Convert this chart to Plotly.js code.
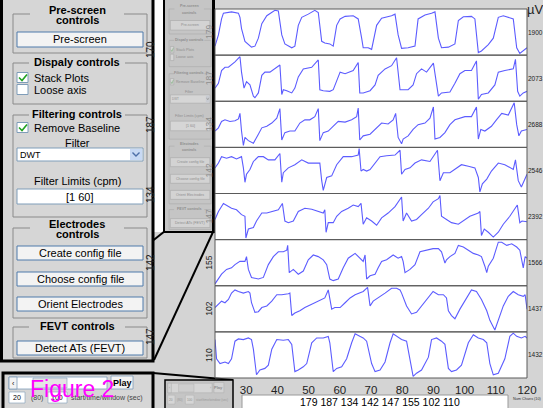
<!DOCTYPE html>
<html><head><meta charset="utf-8">
<script src="https://cdn.plot.ly/plotly-3.0.1.min.js"></script>
<style>html,body{margin:0;padding:0;background:#d4d4d4}#chart{width:543px;height:408px}</style>
</head><body><div id="chart"></div>
<script>
// ---------------- DATA ----------------
const timeTicks = [30, 40, 50, 60, 70, 80, 90, 100, 110, 120];
const channelIds = ['179', '187', '134', '142', '147', '155', '102', '110'];
const channelScales = ['1900', '2073', '2688', '2546', '2392', '1566', '1437', '1432'];
const channelListText = '179 187 134 142 147 155 102 110';

const t179 = [20.0,21.1,22.1,22.7,25.3,27.5,28.0,28.5,29.6,30.1,31.7,32.8,33.9,35.0,36.6,39.2,40.3,41.4,42.4,44.6,45.6,46.7,47.8,49.9,52.0,53.1,54.2,55.2,56.8,57.9,59.0,60.1,61.7,64.3,65.9,67.0,67.5,69.1,70.2,71.8,73.4,76.6,77.7,78.7,79.8,81.9,84.1,85.1,87.3,89.4,90.5,91.6,92.6,94.8,96.9,98.0,99.6,102.2,103.3,104.4,105.4,107.6,109.2,110.8,112.4,115.6,116.7,117.7,118.8,120.0];
const v179 = [25,60,110,128,132,128,115,80,40,35,22,25,50,95,120,137,135,60,32,20,25,90,115,125,137,130,40,35,32,25,90,110,118,120,110,50,20,20,15,90,112,120,125,60,18,20,25,110,122,128,132,50,20,22,32,105,117,118,110,5,10,30,50,115,120,110,20,2,10,20];

const t187 = [20.0,21.1,22.1,23.2,24.3,25.3,26.4,28.0,28.5,29.3,30.1,31.2,32.3,32.8,33.9,35.0,36.0,37.6,39.2,40.8,41.4,41.9,43.0,44.6,45.6,46.7,48.3,51.0,53.1,53.6,54.7,56.8,57.9,59.0,60.1,61.7,64.3,65.9,66.4,67.5,69.7,71.3,72.3,74.5,76.6,78.2,79.3,80.3,81.9,83.5,84.6,86.2,87.8,90.0,91.6,92.6,95.3,96.9,98.5,100.1,102.2,103.8,104.4,105.4,107.6,109.7,110.8,112.9,115.6,116.3,117.0,117.7,118.8,120.0];
const v187 = [38,53,93,103,103,110,120,136,88,38,58,48,13,8,23,78,88,88,98,110,18,33,30,23,38,73,98,103,126,33,30,28,33,63,88,83,93,118,23,23,30,48,78,98,108,133,33,33,33,48,83,98,88,116,13,23,26,53,83,93,93,123,3,18,23,48,88,93,98,128,28,13,23,28];

const t134 = [20.0,21.1,22.1,23.2,24.8,26.4,27.5,28.0,28.5,29.1,29.6,30.7,32.3,32.8,33.9,35.0,36.6,38.2,39.8,40.8,41.4,42.4,44.0,45.6,47.2,48.8,50.4,52.0,53.1,53.6,54.7,56.3,57.9,59.5,61.7,63.8,65.4,65.9,66.4,67.5,69.7,71.3,73.4,75.5,77.1,77.9,78.7,79.8,80.3,81.9,83.5,85.1,87.3,88.9,90.0,90.5,92.1,93.7,95.3,96.9,100.1,102.2,103.8,104.4,105.2,106.5,108.6,110.2,111.9,114.0,115.9,116.7,117.4,118.2,120.0];
const v134 = [48,58,78,83,78,80,86,103,48,3,28,18,10,18,38,58,63,73,88,118,20,43,48,48,73,83,83,93,118,18,43,48,63,78,76,83,93,120,20,33,38,53,73,70,83,103,28,8,23,33,53,68,73,88,123,23,28,43,68,83,93,93,123,23,53,48,63,83,103,98,136,68,33,48,53];

const t142 = [20.0,21.1,22.1,23.7,25.3,26.9,28.5,29.1,29.6,30.1,31.2,32.3,33.9,35.5,37.1,39.2,40.8,41.4,41.9,43.5,45.6,47.8,49.9,52.0,53.6,54.2,54.7,55.8,57.4,59.0,61.1,63.8,65.9,66.2,66.8,67.5,68.6,69.7,71.3,72.9,75.0,77.7,79.3,79.8,80.9,82.5,84.1,86.2,88.9,91.3,92.1,93.2,95.3,96.9,99.0,101.2,103.3,104.4,104.9,105.7,107.1,108.6,110.8,112.9,115.6,116.3,117.2,118.2,119.1,120.0];
const v142 = [77,92,112,107,112,105,112,77,32,57,72,97,112,112,102,102,122,32,62,77,87,102,92,92,92,37,7,47,52,87,112,112,117,137,67,72,67,72,92,112,115,117,132,57,72,77,92,102,97,132,37,62,62,72,87,82,77,47,2,27,42,67,92,87,72,102,37,17,37,57];

const t147 = [20.0,21.1,22.7,23.7,25.3,26.9,28.5,29.6,29.9,30.7,32.3,33.3,35.0,36.6,38.7,40.3,41.6,42.4,43.5,45.1,46.7,48.8,51.0,53.1,54.7,55.2,55.6,56.3,57.9,59.0,60.6,62.7,64.3,65.9,66.8,67.5,68.6,70.2,71.8,73.4,75.5,77.7,79.3,79.8,80.3,81.4,83.0,84.6,86.2,88.4,89.9,91.6,92.1,92.6,94.2,95.8,98.0,99.6,101.7,104.4,104.9,105.4,106.3,107.6,109.2,110.8,112.4,114.5,116.3,116.9,117.7,118.4,120.0];
const v147 = [60,85,110,105,95,90,75,70,2,30,35,55,80,80,85,90,110,55,50,55,85,95,92,85,80,90,20,50,50,70,85,95,105,100,110,45,65,55,42,65,80,100,120,130,55,80,55,60,75,95,115,125,135,70,60,50,45,55,70,80,85,10,30,20,5,20,45,70,95,105,50,55,53];

const t155 = [20.0,21.1,22.1,23.7,25.3,26.4,28.0,29.6,30.1,30.7,31.7,33.9,35.5,37.1,38.7,40.3,41.9,43.0,43.3,43.8,45.1,46.7,48.3,49.9,51.5,53.1,54.7,55.8,56.8,57.9,59.5,61.1,62.7,64.9,66.4,67.5,68.1,68.6,69.7,71.3,72.3,73.4,75.0,77.1,78.7,79.8,80.3,80.9,82.5,84.1,85.7,87.8,89.9,91.6,92.6,93.7,94.2,95.3,96.9,98.0,99.6,101.2,102.8,104.4,105.4,106.5,107.1,107.6,109.2,110.8,111.9,113.5,115.1,116.7,117.7,118.8,119.4,120.0];
const v155 = [3,18,33,48,53,63,73,73,88,48,23,18,23,63,88,103,103,108,123,38,48,33,43,78,93,88,78,63,18,13,18,53,83,98,83,73,93,18,28,33,53,73,78,93,83,88,73,38,48,63,103,108,113,113,103,68,78,88,98,123,118,108,98,93,88,58,38,58,83,133,133,123,128,118,108,53,88,83];

const t102 = [20.0,21.1,22.1,23.2,24.3,25.3,26.4,27.5,29.1,30.7,31.2,31.7,32.8,33.9,35.0,36.6,38.2,39.8,41.4,43.5,44.0,44.6,45.6,47.2,48.8,51.0,53.1,55.2,56.3,57.4,58.4,60.1,61.7,63.3,64.9,67.5,68.9,69.7,70.7,72.3,74.5,76.6,78.2,79.3,79.8,81.4,83.0,84.6,86.2,88.4,89.9,91.6,93.2,94.2,94.8,95.8,96.9,98.5,100.1,102.2,103.8,105.4,107.1,108.1,109.7,110.8,112.4,114.0,115.6,117.2,118.8,119.4,120.0];
const v102 = [73,83,93,88,98,118,128,123,118,123,118,88,58,60,73,78,93,113,113,116,118,48,56,63,73,83,93,103,128,68,73,73,88,103,113,123,136,78,93,103,118,133,133,128,118,78,53,58,78,103,123,113,113,103,63,48,38,68,93,128,123,98,63,33,3,33,78,108,123,113,108,113,68];

const t110 = [20.0,20.5,21.6,23.2,24.3,25.3,26.4,27.5,29.1,30.7,31.7,32.3,33.3,34.4,36.0,37.1,38.2,39.8,41.9,43.5,44.6,45.6,46.7,48.3,49.4,51.0,52.6,54.7,56.3,56.8,57.9,59.0,60.6,62.2,63.8,64.9,66.4,67.5,68.6,70.2,71.3,72.9,74.5,76.1,77.1,78.2,79.8,81.4,82.5,83.5,84.6,86.2,88.4,89.4,91.0,92.6,93.7,94.8,95.8,97.4,99.0,101.2,102.8,104.4,106.0,107.1,108.1,109.2,110.8,112.9,114.5,115.6,116.7,118.2,119.4,120.0];
const v110 = [117,57,42,47,42,57,112,119,117,122,117,87,7,22,27,37,87,117,115,117,102,17,22,32,42,107,122,122,127,107,17,27,32,57,107,135,127,122,112,42,17,22,47,107,135,127,117,112,47,2,12,22,62,117,122,112,102,27,17,22,37,107,132,122,117,107,42,7,12,57,127,137,127,122,127,122];

// ---------------- LAYOUT HELPERS ----------------
const W = 543, H = 408;
const FONT = 'Liberation Sans, Arial, sans-serif';
const shapes = [], annotations = [];
function rect(x0, y0, x1, y1, fill, lc, lw) {
  shapes.push({type: 'rect', xref: 'paper', yref: 'paper', x0: x0 / W, x1: x1 / W, y0: 1 - y1 / H, y1: 1 - y0 / H,
    fillcolor: fill || 'rgba(0,0,0,0)', line: {color: lc || 'rgba(0,0,0,0)', width: lw || 0}});
}
function seg(x0, y0, x1, y1, c, w) {
  shapes.push({type: 'line', xref: 'paper', yref: 'paper', x0: x0 / W, x1: x1 / W, y0: 1 - y0 / H, y1: 1 - y1 / H, line: {color: c, width: w}});
}
function poly(pts, c, w) {
  const d = pts.map((p, i) => (i ? 'L' : 'M') + (p[0] / W).toFixed(5) + ',' + (1 - p[1] / H).toFixed(5)).join(' ');
  shapes.push({type: 'path', xref: 'paper', yref: 'paper', path: d, line: {color: c, width: w}});
}
function text(x, y, t, o) {
  o = o || {};
  annotations.push({xref: 'paper', yref: 'paper', x: x / W, y: 1 - y / H, text: t, showarrow: false,
    xanchor: o.anchor || 'center', yanchor: 'middle', textangle: o.angle || 0, borderpad: 0,
    font: {family: FONT, size: o.size || 11, color: o.color || '#000'}});
}

// control-panel drawing (used for the magnified inset and the faded original)
function drawControls(tx, ty, fs, pal) {
  const groups = [[14, 53, 'Pre-screen', 'controls'], [63, 104, 'Dispaly controls'], [115, 217, 'Filtering controls'],
                  [228, 318, 'Electrodes', 'controls'], [327, 358, 'FEVT controls']];
  groups.forEach(g => {
    rect(tx(13), ty(g[0]), tx(147), ty(g[1]), null, pal.grp, pal.lw);
    const half = g[3] ? 47 : 48;
    rect(tx(77 - half), ty(g[0] - 3), tx(77 + half), ty(g[0] + 3), pal.bg, null, 0);
    if (g[3]) {
      text(tx(77), ty(g[0] - 4), '<b>' + g[2] + '</b>', {size: 11 * fs, color: pal.txt});
      text(tx(77), ty(g[0] + 6), '<b>' + g[3] + '</b>', {size: 11 * fs, color: pal.txt});
    } else {
      text(tx(77), ty(g[0] - 1), '<b>' + g[2] + '</b>', {size: 11 * fs, color: pal.txt});
    }
  });
  const buttons = [[32, 47, 'Pre-screen'], [246, 260, 'Create config file'], [272, 286, 'Choose config file'],
                   [297, 311, 'Orient Electrodes'], [341, 355, 'Detect ATs (FEVT)']];
  buttons.forEach(b => {
    rect(tx(17), ty(b[0]), tx(143), ty(b[1]), pal.btn, pal.btnLine, pal.lw);
    text(tx(80), ty((b[0] + b[1]) / 2), b[2], {size: 11 * fs, color: pal.txt});
  });
  const checks = [[72.5, true, 'Stack Plots'], [84.5, false, 'Loose axis'], [122.5, true, 'Remove Baseline']];
  checks.forEach(c => {
    rect(tx(17), ty(c[0]), tx(28), ty(c[0] + 10), pal.box, pal.boxLine, pal.lw);
    if (c[1]) poly([[tx(19), ty(c[0] + 5)], [tx(22), ty(c[0] + 8)], [tx(27), ty(c[0] + 2)]], pal.check, 1.6 * pal.lw);
    text(tx(33), ty(c[0] + 5), c[2], {anchor: 'left', size: 11 * fs, color: pal.txt});
  });
  text(tx(77), ty(143), 'Filter', {size: 11 * fs, color: pal.txt});
  rect(tx(17), ty(148), tx(143), ty(161), pal.box, pal.boxLine, pal.lw);
  rect(tx(130), ty(149), tx(142), ty(160), pal.arrowBox, null, 0);
  poly([[tx(132.5), ty(152.5)], [tx(136), ty(156)], [tx(139.5), ty(152.5)]], pal.arrow, 1.4 * pal.lw);
  text(tx(19), ty(154.5), 'DWT', {anchor: 'left', size: 9 * fs, color: pal.txt});
  text(tx(77), ty(181), 'Filter Limits (cpm)', {size: 11 * fs, color: pal.txt});
  rect(tx(17), ty(189), tx(143), ty(204), pal.box, pal.boxLine, pal.lw);
  text(tx(80), ty(196.5), '[1 60]', {size: 11 * fs, color: pal.txt});
}

function drawPlayer(tx, ty, fs, pal) {
  rect(tx(9), ty(377), tx(107), ty(389), pal.box, pal.boxLine, pal.lw * 0.8);
  rect(tx(9), ty(377), tx(17), ty(389), pal.btn, pal.boxLine, pal.lw * 0.8);
  text(tx(13), ty(383), '‹', {size: 7 * fs, color: pal.txt});
  rect(tx(33), ty(378), tx(67), ty(388), pal.thumb, pal.boxLine, pal.lw * 0.6);
  text(tx(104.5), ty(383), '›', {size: 7 * fs, color: pal.txt});
  rect(tx(111), ty(376), tx(133), ty(389), pal.btn, pal.boxLine, pal.lw * 0.8);
  text(tx(122), ty(382.5), '<b>Play</b>', {size: 9 * fs, color: pal.txt});
  rect(tx(9), ty(392), tx(25), ty(403), pal.box, pal.boxLine, pal.lw * 0.6);
  text(tx(17), ty(397.5), '20', {size: 7 * fs, color: pal.txt});
  text(tx(37), ty(397.5), '(80)', {size: 7 * fs, color: pal.sub});
  rect(tx(48), ty(392), tx(67), ty(403), pal.box, pal.boxLine, pal.lw * 0.6);
  text(tx(57.5), ty(397.5), '100', {size: 7 * fs, color: pal.txt});
  text(tx(70), ty(397.5), 'start/time/window (sec)', {anchor: 'left', size: 7 * fs, color: pal.sub});
}

const palMain = {bg: '#d6d6d6', grp: '#8a8a8a', lw: 1, btn: '#f3f3f3', btnLine: '#4f7bab', box: '#ffffff', boxLine: '#7f9db9',
  check: '#21a121', arrowBox: '#c8d9f4', arrow: '#4d6fa8', txt: '#000000', thumb: '#e4e4e4', sub: '#444'};
const palFaded = {bg: '#c5c5c5', grp: '#a9a9a9', lw: 0.6, btn: '#d3d3d3', btnLine: '#a7a7a7', box: '#d6d6d6', boxLine: '#a9a9a9',
  check: '#9aba9a', arrowBox: '#c9ccd2', arrow: '#a0a0a0', txt: '#8e8e8e', thumb: '#cfcfcf', sub: '#9a9a9a'};

// ---------------- BACKGROUND / PANELS ----------------
rect(153, 0, 164, 232, '#ffffff', null, 0);
seg(165, 231, 1, 361, '#000', 2);
// magnified inset of the controls
rect(1.5, -2, 153, 361, palMain.bg, '#000', 3);
drawControls(x => x, y => y, 1, palMain);
[['170', 50], ['187', 125], ['134', 195], ['142', 263], ['147', 337]].forEach(l =>
  text(150, l[1], l[0], {angle: -90, size: 10, color: '#222'}));
// original (faded) controls column
rect(164, -2, 214, 232, palFaded.bg, '#000', 2);
drawControls(x => 165 + x * 0.314, y => y * 0.641, 0.33, palFaded);
seg(154, 360, 213, 232, '#000', 2);
// player inset and its faded original
seg(153, 373, 233, 380, '#000', 2);
rect(3, 373, 153, 412, palMain.bg, '#000', 3);
drawPlayer(x => x, y => y, 1, palMain);
text(72, 389, 'Figure 2', {size: 23, color: '#ff00ff'});
rect(165, 380, 233, 412, palFaded.bg, '#000', 1.5);
drawPlayer(x => 165 + (x - 3) * 0.453, y => 380 + (y - 373) * 0.8, 0.45, palFaded);

// ---------------- STACKED CHANNEL PLOTS ----------------
const series = [[t179, v179], [t187, v187], [t134, v134], [t142, v142], [t147, v147], [t155, v155], [t102, v102], [t110, v110]];
const plotLeft = 215, plotRight = 527, plotTop = 9, plotBottom = 378;
const rowH = (plotBottom - plotTop) / series.length;
const traces = [];
const layout = {
  width: W, height: H, margin: {l: 0, r: 0, t: 0, b: 0}, paper_bgcolor: '#d4d4d4', plot_bgcolor: '#ffffff', showlegend: false,
  xaxis: {domain: [plotLeft / W, plotRight / W], range: [20, 120], anchor: 'y8', tickvals: timeTicks, ticks: '',
    ticklabelstandoff: 3, showgrid: false, zeroline: false, showline: false, tickfont: {family: FONT, size: 11.5, color: '#222'}},
  shapes: shapes, annotations: annotations
};
series.forEach((s, i) => {
  const top = plotTop + i * rowH, bot = top + rowH;
  const yName = i === 0 ? 'yaxis' : 'yaxis' + (i + 1);
  layout[yName] = {domain: [1 - bot / H, 1 - top / H], range: [-3, 141], visible: false, anchor: 'x'};
  traces.push({x: s[0], y: s[1], xaxis: 'x', yaxis: i === 0 ? 'y' : 'y' + (i + 1), mode: 'lines',
    line: {color: '#5c5cff', width: 1.1}, hoverinfo: 'skip'});
  rect(plotLeft, top, plotRight, bot, null, '#5a5a5a', 1);
  text(535, (top + bot) / 2, channelScales[i], {size: 6.5, color: '#222'});
  text(209, (top + bot) / 2, channelIds[i], {angle: -90, size: 8.5, color: i < 5 ? '#8e8e8e' : '#222'});
});
seg(213, 0, 213, 232, '#000', 2);
text(535, 9, 'µV', {size: 13, color: '#222'});

// channel list box under the time axis
rect(242, 395, 508, 410, '#ffffff', '#9a9a9a', 1);
text(380, 401.5, channelListText, {size: 10.5, color: '#000'});
text(527, 399, 'Num Chans (10)', {size: 3.8, color: '#333'});

Plotly.newPlot('chart', traces, layout, {staticPlot: true, displayModeBar: false});
</script>
</body></html>
